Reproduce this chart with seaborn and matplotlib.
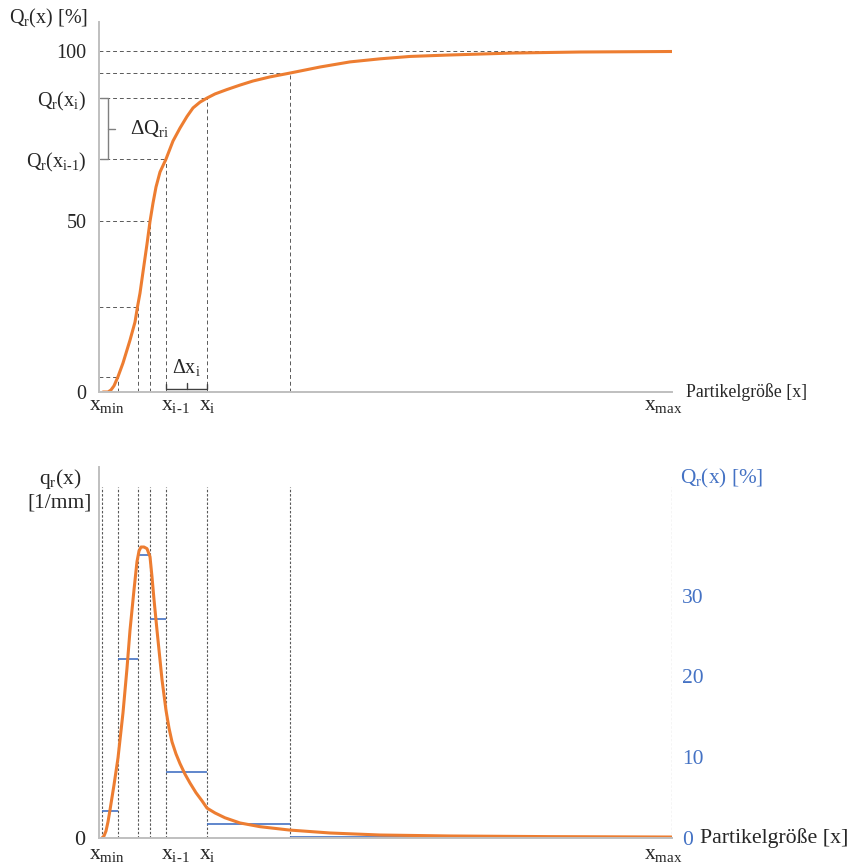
import matplotlib
matplotlib.use("Agg")
import matplotlib.pyplot as plt
import matplotlib.transforms as mtransforms
import numpy as np
import pandas as pd
import seaborn as sns

# ---------------- data (arbitrary size units) ----------------
edges = [3, 19, 38.5, 51, 67, 108, 190.5, 573]          # class boundaries x_min ... x_max
Q_edge = [0, 4.5, 25, 50, 68.3, 86.2, 93.5, 100]          # Q_r at the boundaries [%]
x_labels = [r"$\mathrm{x_{min}}$", r"$\mathrm{x_{i\text{-}1}}$", r"$\mathrm{x_i}$", r"$\mathrm{x_{max}}$"]
x_label_idx = [0, 4, 5, 7]

Q_x = [4, 9, 12, 15, 19, 24, 31, 36, 38.5, 41, 44, 48, 51, 54, 57, 61, 67, 74, 81,
       88, 94, 101, 108, 116, 128, 141, 154, 171, 190.5, 221, 251, 281, 311, 348,
       414, 481, 573]
Q_val = [0, 0, 0.6, 1.8, 4.5, 8.5, 15.2, 20.5, 25, 29.0, 35.2, 43.4, 50, 55.4,
         60.1, 64.5, 68.3, 73.6, 77.4, 80.8, 83.3, 85.0, 86.2, 87.4, 88.7, 90.0,
         91.2, 92.4, 93.5, 95.3, 96.8, 97.7, 98.4, 98.8, 99.4, 99.7, 99.85]

q_x = [3, 5, 7, 9, 11, 15, 19, 24, 28, 31, 35, 38, 40, 42, 45, 48, 51, 53, 55, 58,
       63, 67, 70, 73, 77, 81, 86, 91, 97, 103, 108, 116, 126, 141, 161, 190, 231,
       281, 351, 451, 573]
q_val = [0, 0.25, 0.87, 2.0, 3.47, 6.56, 9.9, 15.5, 21.0, 25.7, 30.7, 34.2, 35.5,
         36.0, 36.0, 35.8, 34.8, 32.3, 29.5, 25.7, 19.6, 15.8, 13.6, 11.9, 10.4,
         9.2, 7.9, 6.8, 5.6, 4.6, 3.7, 3.1, 2.5, 1.86, 1.4, 0.99, 0.62, 0.37, 0.25,
         0.17, 0.12]

q_bar = [3.3, 22.2, 35.0, 27.1, 8.2, 1.7, 0.12]           # class-average density
right_ticks = [0, 10, 20, 30]

# ---------------- style ----------------
sns.set_theme(style="white")
plt.rcParams["font.family"] = ["Liberation Serif", "DejaVu Serif"]
plt.rcParams["mathtext.fontset"] = "custom"
plt.rcParams["mathtext.rm"] = "Liberation Serif"
plt.rcParams["mathtext.it"] = "Liberation Serif:italic"
plt.rcParams["mathtext.default"] = "rm"

ORANGE = "#ED7D31"
BLUE = "#4472C4"
AXGRAY = "#BFBFBF"
DASH = "#595959"
TXT = "#262626"

W, H = 849, 866
fig = plt.figure(figsize=(W / 100, H / 100), dpi=100)


def fx(px):
    return px / W


def fy(py):
    return 1 - py / H


ax1 = fig.add_axes([fx(99), fy(392), fx(672) - fx(99), fy(22) - fy(392)])
ax2 = fig.add_axes([fx(99), fy(838), fx(672) - fx(99), fy(467) - fy(838)])

for ax in (ax1, ax2):
    ax.set_xlim(0, 573)
    for s in ("top", "right"):
        ax.spines[s].set_visible(False)
    for s in ("left", "bottom"):
        ax.spines[s].set_color(AXGRAY)
        ax.spines[s].set_linewidth(1.4)
    ax.tick_params(length=0)
    ax.set_facecolor("none")

ax1.set_ylim(0, 108.5)
ax2.set_ylim(0, 45.9)

# ---------------- top: cumulative distribution ----------------
dash_top = (0, (4, 3))
for xe, qe in zip(edges[1:], Q_edge[1:]):
    ax1.plot([0, xe], [qe, qe], color=DASH, lw=0.7, ls=dash_top)
    ax1.plot([xe, xe], [0, qe], color=DASH, lw=0.7, ls=dash_top)

dfQ = pd.DataFrame({"x": Q_x, "Q": Q_val})
sns.lineplot(data=dfQ, x="x", y="Q", ax=ax1, color=ORANGE, lw=2.2, sort=False)

ax1.set_xlabel("")
ax1.set_ylabel("")
ax1.set_yticks([Q_edge[0], Q_edge[3], Q_edge[4], Q_edge[5], Q_edge[7]])
ax1.set_yticklabels(["0", "50", r"$\mathrm{Q_r(x_{i\text{-}1})}$", r"$\mathrm{Q_r(x_i)}$", "100"],
                    fontsize=14.5, color=TXT)
ax1.tick_params(axis="y", pad=9)

# x labels (class boundary names) below both axes
xt = [edges[i] for i in x_label_idx]
x_dx = [5, 9, 0, -9]
for ax, dy in ((ax1, -4), (ax2, -7)):
    ax.set_xticks([])
    for xv, lab, dx in zip(xt, x_labels, x_dx):
        tr = mtransforms.offset_copy(ax.get_xaxis_transform(), fig=fig, x=dx, y=dy,
                                     units="dots")
        ax.text(xv, 0, lab, transform=tr, ha="center", va="top", fontsize=15.5,
                color=TXT)

# ΔQ brace
xb = 9
ax1.plot([xb - 8, xb, xb, xb - 8], [Q_edge[5], Q_edge[5], Q_edge[4], Q_edge[4]],
         color="#7F7F7F", lw=1.0, clip_on=False)
qm = (Q_edge[4] + Q_edge[5]) / 2
ax1.plot([xb, xb + 7], [qm, qm], color="#7F7F7F", lw=1.0, clip_on=False)
ax1.text(31, qm, r"$\Delta\mathrm{Q_{ri}}$", fontsize=15, va="center", ha="left", color=TXT)

# Δx bracket
y0 = 1.0
ax1.plot([edges[4], edges[4], edges[5], edges[5]], [y0 + 1.2, y0, y0, y0 + 1.2],
         color="#404040", lw=1.0)
xm = (edges[4] + edges[5]) / 2
ax1.plot([xm, xm], [y0, y0 + 1.5], color="#404040", lw=1.0)
ax1.text(xm, y0 + 3.0, r"$\Delta\mathrm{x_i}$", fontsize=14.5, ha="center", va="bottom",
         color=TXT)

fig.text(fx(9), fy(18), r"$\mathrm{Q_r(x)}$ [%]", fontsize=14.5, ha="left", va="center",
         color=TXT)
fig.text(fx(686), fy(392), "Partikelgröße [x]", fontsize=12.8, ha="left", va="center",
         color=TXT)

# ---------------- bottom: density distribution ----------------
dash_bot = (0, (2.2, 1.6))
for xe in edges:
    ax2.plot([xe, xe], [0, 43.4], color=DASH, lw=0.8, ls=dash_bot)

dfq = pd.DataFrame({"x": q_x, "q": q_val})
ax2.hlines(q_bar, edges[:-1], edges[1:], color=BLUE, lw=1.2)
sns.lineplot(data=dfq, x="x", y="q", ax=ax2, color=ORANGE, lw=2.2, sort=False)

ax2.set_xlabel("")
ax2.set_ylabel("")
ax2.set_yticks([0])
ax2.set_yticklabels(["0"], fontsize=16, color=TXT)
ax2.tick_params(axis="y", pad=10)

axr = ax2.twinx()
axr.set_ylim(ax2.get_ylim())
for s in axr.spines.values():
    s.set_visible(False)
axr.set_yticks(right_ticks)
axr.set_yticklabels([str(t) for t in right_ticks], fontsize=15.5, color=BLUE)
axr.tick_params(length=0, pad=7)
axr.grid(False)

fig.text(fx(60), fy(490), r"$\mathrm{q_r(x)}$" + "\n[1/mm]", fontsize=15.5, ha="center",
         va="center", multialignment="center", linespacing=1.2, color=TXT)
fig.text(fx(680), fy(478), r"$\mathrm{Q_r(x)}$ [%]", fontsize=15.3, ha="left", va="center",
         color=BLUE)
fig.text(fx(700), fy(838), "Partikelgröße [x]", fontsize=15.7, ha="left", va="center",
         color=TXT)

fig.savefig("out.png", dpi=100)
